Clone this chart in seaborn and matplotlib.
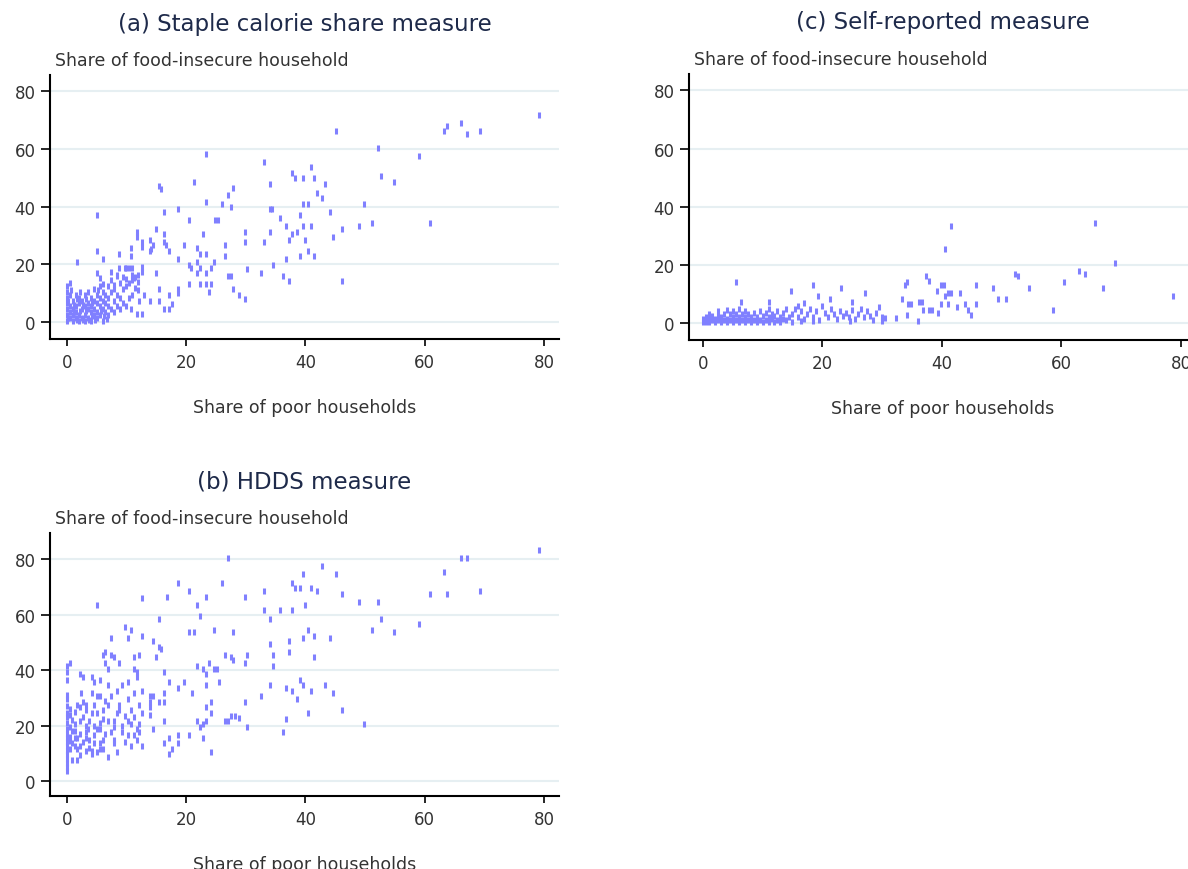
import numpy as np
import matplotlib
matplotlib.use("Agg")
import matplotlib.pyplot as plt
import seaborn as sns

# (a) staple calorie share: (share of poor, share of food-insecure)
staple_pts = [
    (79.1, 71.9), (45.1, 66.1), (63.3, 66.1), (63.8, 68.1), (66.1, 69.0), (67.0, 65.2),
    (69.3, 66.1), (52.2, 60.3), (59.1, 57.4), (23.3, 58.3), (33.1, 55.4), (41.0, 53.6),
    (37.7, 51.7), (38.2, 49.9), (39.6, 49.9), (41.4, 49.9), (52.6, 50.7), (54.9, 48.7),
    (43.3, 47.8), (34.0, 47.8), (21.4, 48.7), (15.4, 47.0), (15.8, 46.1), (27.9, 46.4),
    (27.0, 43.9), (41.9, 44.9), (42.8, 42.9), (23.3, 41.6), (26.0, 41.0), (27.5, 40.0),
    (39.6, 41.0), (40.5, 41.0), (49.8, 41.0), (34.0, 39.1), (34.4, 39.1), (16.3, 38.1),
    (18.6, 39.1), (44.2, 38.1), (5.1, 37.2), (39.1, 37.2), (35.8, 36.2), (20.5, 35.3),
    (24.9, 35.3), (25.4, 35.3), (60.9, 34.3), (51.2, 34.3), (48.9, 33.3), (36.8, 33.3),
    (39.6, 33.3), (41.0, 33.3), (46.1, 32.4), (11.7, 31.4), (11.7, 29.5), (14.9, 32.4),
    (38.6, 31.4), (29.8, 31.4), (34.0, 31.4), (22.8, 30.4), (16.3, 30.4), (37.7, 30.4),
    (37.2, 28.6), (44.7, 29.5), (14.0, 28.6), (40.0, 28.6), (12.6, 27.7), (12.6, 26.0),
    (14.4, 26.7), (14.1, 25.5), (16.3, 27.7), (16.7, 26.7), (19.6, 26.7), (26.6, 26.7),
    (29.8, 27.7), (33.1, 27.7), (21.9, 25.8), (23.3, 23.8), (10.7, 25.8), (17.2, 24.8),
    (14.0, 24.8), (5.1, 24.8), (8.8, 23.8), (22.3, 23.8), (40.5, 24.8), (26.6, 22.9),
    (10.7, 22.9), (39.1, 22.9), (41.4, 22.9), (6.1, 22.0), (18.6, 22.0), (36.8, 22.0),
    (1.8, 20.8), (24.7, 20.8), (20.5, 19.8), (20.9, 18.9), (21.9, 20.8), (12.6, 19.1),
    (12.6, 17.5), (22.3, 18.9), (24.2, 18.9), (34.5, 19.8), (30.2, 18.4), (8.8, 18.9),
    (10.0, 18.9), (10.5, 18.9), (11.0, 18.9), (14.9, 17.0), (21.9, 17.0), (23.3, 17.0),
    (32.6, 17.0), (27.0, 16.1), (27.5, 16.1), (36.3, 16.1), (37.2, 14.2), (46.1, 14.2),
    (20.5, 13.2), (22.3, 13.2), (23.3, 13.2), (24.2, 13.2), (18.6, 11.5), (18.6, 10.0),
    (15.4, 11.5), (27.9, 11.5), (23.8, 10.4), (28.9, 9.4), (29.8, 8.2), (17.2, 9.4),
    (14.0, 7.3), (15.4, 7.3), (17.7, 6.4), (16.3, 4.5), (17.2, 4.5), (11.7, 2.7),
    (12.6, 2.7), (10.7, 4.5), (12.1, 7.3), (13.0, 9.4),
    (0, 0.5), (0, 2.5), (0, 4.5), (0, 6.5), (0, 8.5), (0, 10.5), (0, 12.5),
    (0.5, 1.5), (0.5, 3.5), (0.5, 5.5), (0.5, 9.5), (0.5, 13.5), (1, 0.5), (1, 2.5),
    (1, 4.5), (1, 7.5), (1.5, 1.5), (1.5, 3.5), (1.5, 5.5), (1.5, 9.5), (2, 0.5),
    (2, 2.5), (2, 6.5), (2, 8.5), (2.5, 1.5), (2.5, 4.5), (2.5, 7.5), (3, 0.5),
    (3, 2.5), (3, 5.5), (3, 9.5), (3.5, 1.5), (3.5, 4.5), (3.5, 6.5), (3.5, 10.5),
    (4, 0.5), (4, 3.5), (4, 5.5), (4, 8.5), (4.5, 2.5), (4.5, 4.5), (4.5, 7.5),
    (4.5, 11.5), (5, 1.5), (5, 3.5), (5, 6.5), (5, 9.5), (5.5, 2.5), (5.5, 5.5),
    (5.5, 8.5), (5.5, 12.5), (6, 0.5), (6, 4.5), (6, 7.5), (6, 10.5), (6.5, 3.5),
    (6.5, 6.5), (6.5, 9.5), (7, 2.5), (7, 5.5), (7, 8.5), (7, 12.5), (7.5, 4.5),
    (7.5, 10.5), (7.5, 14.5), (8, 3.5), (8, 7.5), (8, 11.5), (8.5, 5.5), (8.5, 9.5),
    (8.5, 16), (9, 4.5), (9, 8.5), (9, 13.5), (9.5, 6.5), (9.5, 11.5), (9.5, 15.5),
    (10, 5.5), (10, 12.5), (10, 15), (10.5, 8.5), (10.5, 13.5), (11, 9.5), (11, 14.5),
    (11, 16.5), (11.5, 12), (11.5, 15.5), (12, 11), (12, 14), (12, 16.5),
    (5.1, 16.9), (5.5, 15.2), (6.1, 13.2), (7.4, 17.5), (7.9, 13.0), (8.4, 16.2),
    (9.8, 18.9), (11.2, 15.2),
    (0.2, 1.5), (0.2, 7.5), (0.7, 11.0), (1.2, 3.5), (1.2, 6.0), (1.7, 0.8), (1.7, 8.0),
    (2.2, 4.0), (2.2, 10.5), (2.7, 0.8), (2.7, 6.0), (3.2, 3.8), (3.2, 8.0), (3.7, 0.8),
    (4.2, 2.0), (4.2, 6.8), (4.7, 0.8), (5.2, 11.0), (5.7, 4.0), (6.2, 2.0), (6.7, 1.0),
]

# (b) HDDS measure
hdds_pts = [
    (79.1, 83.5), (27.0, 80.6), (66.1, 80.6), (67.0, 80.6), (42.8, 77.6), (63.3, 75.6),
    (39.6, 74.6), (45.1, 74.6), (18.6, 71.6), (26.0, 71.6), (37.7, 71.6), (38.2, 69.5),
    (39.1, 69.5), (41.0, 69.5), (41.9, 68.6), (20.5, 68.6), (33.1, 68.6), (69.3, 68.6),
    (60.9, 67.6), (63.8, 67.6), (46.1, 67.6), (12.6, 66.1), (16.8, 66.5), (23.3, 66.5),
    (29.8, 66.5), (5.1, 63.5), (21.9, 63.5), (40.0, 63.5), (48.9, 64.6), (52.2, 64.6),
    (33.1, 61.6), (35.8, 61.6), (37.7, 61.6), (22.3, 59.5), (15.4, 58.5), (34.0, 58.5),
    (52.6, 58.5), (59.1, 56.5), (51.2, 54.5), (40.5, 54.5), (9.8, 55.5), (10.7, 54.5),
    (24.7, 54.5), (20.5, 53.6), (21.4, 53.6), (27.9, 53.6), (54.9, 53.6), (12.6, 52.5),
    (7.4, 51.5), (10.3, 51.5), (39.6, 51.5), (41.4, 52.5), (44.2, 51.5), (14.4, 50.6),
    (37.2, 50.6), (15.4, 48.5), (15.8, 47.6), (34.0, 49.5), (14.9, 44.6), (6.1, 45.5),
    (6.5, 46.5), (7.4, 45.5), (7.9, 44.6), (11.2, 44.6), (12.1, 45.5), (26.6, 45.5),
    (27.5, 44.6), (27.9, 43.6), (30.2, 45.5), (34.5, 45.5), (37.2, 46.5), (41.4, 44.6),
    (6.5, 42.5), (8.8, 42.5), (0.5, 42.5), (0, 41.4), (0, 39.5), (29.8, 42.5),
    (23.8, 42.5), (21.9, 41.6), (22.8, 40.6), (34.5, 41.6), (24.7, 40.6), (25.2, 40.6),
    (11.2, 40.5), (11.7, 39.5), (11.7, 37.5), (16.3, 39.5), (7.0, 40.5), (2.3, 38.6),
    (2.8, 37.6), (23.3, 38.6), (4.2, 37.5), (5.6, 36.5), (0, 36.5), (4.6, 35.6),
    (39.1, 36.5), (39.6, 34.6), (9.3, 34.6), (10.3, 35.6), (17.2, 35.6), (19.6, 35.6),
    (18.6, 33.5), (25.6, 35.6), (34.0, 34.6), (43.3, 34.6), (23.3, 34.6), (36.8, 33.5),
    (37.7, 32.6), (7.0, 34.6), (41.0, 32.6), (44.7, 31.6), (21.0, 31.6), (12.6, 32.6),
    (16.3, 31.6), (11.2, 31.6), (2.4, 31.6), (4.2, 31.6), (8.4, 32.6), (32.6, 30.6),
    (7.4, 30.6), (5.1, 30.6), (5.6, 30.6), (14.0, 30.6), (14.4, 30.6), (38.6, 29.5),
    (10.3, 29.5), (15.4, 28.6), (16.3, 28.6), (29.8, 28.6), (24.2, 28.6), (0, 29.5),
    (2.8, 28.6), (3.2, 27.6), (7.0, 27.6), (8.8, 27.6), (12.1, 27.6), (14.0, 28.6),
    (14.0, 26.7), (23.3, 26.7), (1.8, 27.6), (2.3, 26.7), (46.1, 25.7), (40.5, 24.5),
    (24.2, 24.6), (6.1, 25.7), (10.7, 25.7), (4.2, 24.6), (5.1, 24.6), (8.4, 24.6),
    (8.8, 25.7), (12.6, 24.6), (0, 24.6), (0.5, 23.7), (14.0, 23.7), (28.2, 23.4),
    (27.5, 23.4), (26.6, 21.5), (27.0, 21.5), (28.9, 22.6), (36.8, 22.5), (21.9, 21.5),
    (22.8, 20.5), (22.3, 19.6), (23.3, 21.5), (16.3, 21.5), (6.1, 22.5), (7.0, 21.5),
    (7.9, 21.5), (2.3, 21.5), (1.4, 20.5), (9.8, 23.4), (10.3, 21.5), (10.7, 20.5),
    (3.8, 21.5), (12.1, 20.5), (49.8, 20.5), (14.4, 18.6), (30.2, 19.6), (0, 18.6),
    (0, 21.0), (3.5, 18.6), (3.2, 17.7), (5.6, 18.6), (5.1, 18.6), (7.9, 19.6),
    (7.4, 17.7), (9.3, 17.7), (11.7, 18.6), (12.1, 17.7), (10.3, 16.6), (11.2, 16.6),
    (36.3, 17.7), (20.5, 16.6), (18.6, 16.6), (18.6, 13.7), (17.2, 15.6), (22.8, 15.6),
    (1.4, 15.6), (1.8, 15.6), (0.9, 13.7), (3.2, 15.6), (3.8, 14.7), (7.9, 14.7),
    (7.9, 13.7), (11.7, 14.7), (4.6, 13.7), (5.6, 13.7), (6.1, 14.7), (16.3, 13.7),
    (12.6, 12.6), (10.7, 12.6), (2.3, 12.6), (1.8, 11.7), (5.6, 11.7), (6.1, 11.7),
    (0.5, 11.7), (0, 9.6), (4.2, 10.7), (4.2, 9.6), (17.7, 11.7), (17.2, 9.6),
    (24.2, 10.6), (5.1, 10.6), (3.2, 10.7), (7.0, 8.5), (0.9, 7.6), (1.8, 7.6),
    (0, 3.6), (0, 6.6), (0, 12.5), (0, 15.5), (0, 17.0), (0, 27.0), (0, 31.0),
    (0.5, 19.5), (0.5, 26.0), (0.5, 16.0), (0.9, 22.0), (1.4, 25.0), (1.4, 18.0),
    (2.8, 23.0), (2.3, 9.5), (3.2, 25.5), (4.6, 27.5), (4.6, 16.5), (5.6, 21.0),
    (6.5, 17.0), (6.5, 29.0), (8.4, 10.5), (9.3, 20.0), (9.8, 14.0), (11.2, 23.0),
    (0, 5.0), (0, 8.0), (0, 11.0), (0, 14.0), (0, 23.0), (0.5, 14.5), (0.9, 18.0),
    (1.4, 12.5), (2.3, 17.0), (2.8, 14.0), (3.2, 20.0), (3.8, 12.0), (4.6, 20.0),
]

# (c) self-reported measure
self_pts = [
    (65.6, 34.3), (41.6, 33.3), (40.6, 25.6), (68.9, 20.7), (62.9, 17.8), (63.9, 16.9),
    (52.3, 17.0), (52.7, 16.1), (60.5, 14.2), (5.5, 14.2), (34.1, 14.0), (33.8, 13.1),
    (37.4, 16.1), (37.9, 14.6), (18.5, 13.2), (39.9, 13.2), (40.4, 13.2), (45.7, 13.2),
    (48.5, 12.2), (54.6, 12.2), (67.0, 12.2), (23.2, 12.2), (14.8, 11.2), (39.2, 11.2),
    (27.2, 10.3), (43.0, 10.3), (19.3, 9.4), (41.1, 10.3), (41.6, 10.3), (40.6, 9.4),
    (78.6, 9.4), (49.4, 8.3), (50.8, 8.3), (21.3, 8.3), (33.3, 8.3), (36.1, 7.4),
    (36.6, 7.4), (6.4, 7.4), (11.0, 7.4), (34.4, 6.4), (34.8, 6.4), (39.8, 6.4),
    (41.1, 6.4), (43.9, 6.4), (45.7, 6.4), (24.9, 7.4), (42.5, 5.4), (36.9, 4.5),
    (37.9, 4.5), (38.3, 4.5), (44.4, 4.5), (58.6, 4.5), (39.3, 3.6), (44.8, 2.7),
    (34.2, 2.7), (32.3, 1.6), (30.5, 1.6), (30.0, 0.7), (36.0, 0.7), (18.5, 0.7),
    (24.6, 0.7), (16.5, 0.7),
    (0, 0.5), (0, 1.5), (0.5, 0.5), (0.5, 2.0), (1, 0.5), (1, 1.5), (1, 3.0),
    (1.5, 1.0), (1.5, 2.5), (2, 0.5), (2, 1.5), (2.5, 1.0), (2.5, 2.5), (2.5, 4.0),
    (3, 0.5), (3, 2.0), (3.5, 1.0), (3.5, 3.0), (4, 0.5), (4, 1.5), (4, 4.5),
    (4.5, 1.0), (4.5, 3.0), (5, 0.5), (5, 2.0), (5, 4.0), (5.5, 1.0), (5.5, 3.0),
    (6, 0.5), (6, 2.0), (6, 5.0), (6.5, 1.0), (6.5, 3.0), (7, 0.5), (7, 2.0),
    (7, 4.0), (7.5, 1.0), (7.5, 3.0), (8, 0.5), (8, 2.0), (8.5, 1.0), (8.5, 3.5),
    (9, 0.5), (9, 2.0), (9.5, 1.0), (9.5, 4.0), (10, 0.5), (10, 2.5), (10.5, 1.0),
    (10.5, 3.5), (11, 0.5), (11, 2.0), (11, 5.0), (11.5, 1.5), (11.5, 3.0),
    (12, 0.5), (12, 2.5), (12.5, 1.0), (12.5, 4.0), (13, 0.5), (13, 2.0),
    (13.5, 1.5), (13.5, 3.5), (14, 1.0), (14, 5.0), (14.5, 2.0), (15, 0.5), (15, 3.0),
    (15.5, 5.0), (16, 2.0), (16, 6.0), (16.5, 4.0), (17, 1.5), (17, 7.0), (17.5, 3.0),
    (18, 5.0), (18.5, 2.0), (19, 4.0), (19.5, 1.0), (20, 6.0), (20.5, 3.5), (21, 2.0),
    (21.5, 5.0), (22, 3.0), (22.5, 1.5), (23, 4.0), (23.5, 2.5), (24, 3.5), (24.5, 2.0),
    (25, 4.5), (25.5, 1.5), (26, 3.0), (26.5, 5.0), (27, 2.0), (27.5, 4.0), (28, 2.5),
    (28.5, 1.0), (29, 3.5), (29.5, 5.5), (30, 2.0),
]

panels = [
    ("(a) Staple calorie share measure", staple_pts),
    ("(b) HDDS measure", hdds_pts),
    ("(c) Self-reported measure", self_pts),
]
# pixel boxes (left, top, right, bottom) and limits
boxes = [(50, 76, 559, 340), (50, 534, 559, 797), (689, 75, 1196, 341)]
ylims = [(-5.8, 85.6), (-5.4, 89.5), (-5.8, 85.6)]
xlims = [(-2.8, 82.5), (-2.8, 82.5), (-2.3, 82.5)]

W, H = 1188, 870
sns.set_style("white")
plt.rcParams["font.family"] = ["DejaVu Sans"]

fig = plt.figure(figsize=(W / 100, H / 100), dpi=100)
marker_col = "#8080FF"
txt_col = "#333333"

for (title, pts), (l, t, r, b), yl, xl in zip(panels, boxes, ylims, xlims):
    ax = fig.add_axes([l / W, 1 - b / H, (r - l) / W, (b - t) / H])
    pts = np.array(pts)
    sns.scatterplot(x=pts[:, 0], y=pts[:, 1], ax=ax, marker="|", s=20,
                    linewidth=2.2, color=marker_col, legend=False)
    ax.set_xlim(*xl)
    ax.set_ylim(*yl)
    ax.set_xticks([0, 20, 40, 60, 80])
    ax.set_yticks([0, 20, 40, 60, 80])
    ax.yaxis.grid(True, color="#E6EFF2", linewidth=1.5)
    ax.xaxis.grid(False)
    ax.set_axisbelow(True)
    for side in ["top", "right"]:
        ax.spines[side].set_visible(False)
    for side in ["left", "bottom"]:
        ax.spines[side].set_color("black")
        ax.spines[side].set_linewidth(1.5)
    ax.tick_params(axis="y", direction="out", length=6.5, width=1.4, pad=4,
                   labelsize=12, labelcolor=txt_col, left=True)
    ax.tick_params(axis="x", direction="out", length=5, width=1.4, pad=5,
                   labelsize=12, labelcolor=txt_col, bottom=True)
    cx = (l + r) / 2
    fig.text(cx / W, 1 - (t - 52) / H, title, ha="center", va="center",
             fontsize=16.5, color="#1e2a4a")
    fig.text((l + 5) / W, 1 - (t - 15) / H, "Share of food-insecure household",
             ha="left", va="center", fontsize=12.5, color=txt_col)
    fig.text(cx / W, 1 - (b + 68) / H, "Share of poor households",
             ha="center", va="center", fontsize=12.5, color=txt_col)

fig.savefig("out.png", dpi=100)
